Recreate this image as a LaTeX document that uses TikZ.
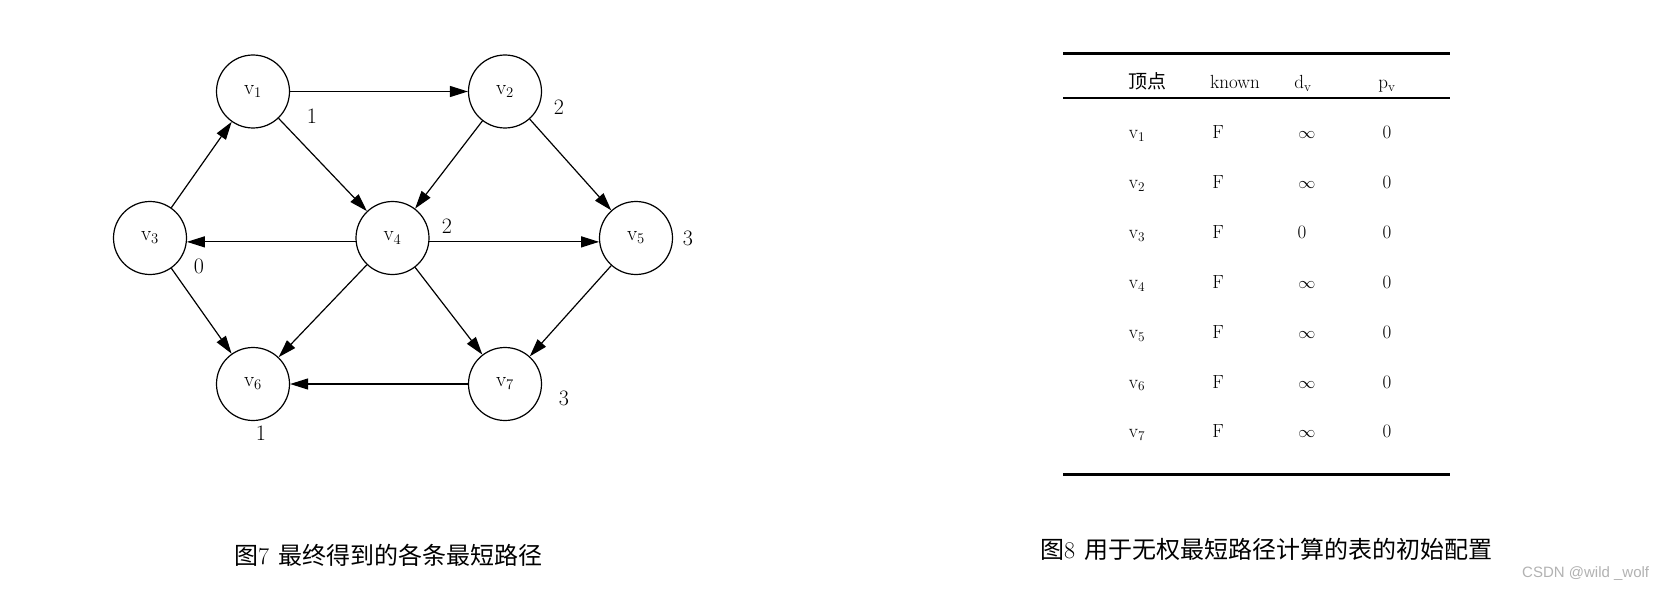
\documentclass[tikz,border=0pt]{standalone}
\usepackage{fix-cm}
\usepackage{fontspec}
\newfontfamily\cjk{Noto Sans CJK SC}
\newfontfamily\wm{Liberation Sans}
\usetikzlibrary{arrows.meta}
\tikzset{
  vert/.style={circle,draw,line width=1.2pt,minimum size=73pt,inner sep=0pt,font=\fontsize{21}{24}\selectfont},
  arr/.style={line width=1.2pt,-{Triangle[length=18pt,width=11pt]}},
  num/.style={font=\fontsize{22}{26}\selectfont,inner sep=0pt},
  cell/.style={font=\fontsize{19}{22}\selectfont,anchor=base,inner sep=0pt},
  captext/.style={font=\cjk\fontsize{24}{28}\selectfont,anchor=west,inner sep=0pt},
  thickrule/.style={line width=3pt},
  thinrule/.style={line width=1.2pt}
}
\newcommand{\myinfty}{\scalebox{0.9}[0.85]{$\infty$}}
\begin{document}
\begin{tikzpicture}[x=1pt,y=-1pt]
\fill[white] (0,0) rectangle (1668,591);
\useasboundingbox (0,0) rectangle (1668,591);
% graph
\node[vert] (v1) at (253,91.5) {v\textsubscript{1}};
\node[vert] (v2) at (505,91.5) {v\textsubscript{2}};
\node[vert] (v3) at (150,238) {v\textsubscript{3}};
\node[vert] (v4) at (392.5,238) {v\textsubscript{4}};
\node[vert] (v5) at (636,238) {v\textsubscript{5}};
\node[vert] (v6) at (253,384) {v\textsubscript{6}};
\node[vert] (v7) at (505,384) {v\textsubscript{7}};
\draw[arr] (v1) -- (v2);
\draw[arr] (v1) -- (v4);
\draw[arr] (v2) -- (v4);
\draw[arr] (v2) -- (v5);
\draw[arr] (v3) -- (v1);
\draw[arr] (v4.186) -- (v3.-6);
\draw[arr] (v4.-6) -- (v5.186);
\draw[arr] (v3) -- (v6);
\draw[arr] (v4) -- (v6);
\draw[arr] (v4) -- (v7);
\draw[arr] (v5) -- (v7);
\draw[arr] (v7) -- (v6);
\node[num] (n1) at (312,116) {1};
\node[num] (n2) at (559,107) {2};
\node[num] (n4) at (447,226) {2};
\node[num] (n5) at (688,238) {3};
\node[num] (n3) at (199,266) {0};
\node[num] (n6) at (261,433) {1};
\node[num] (n7) at (564,398) {3};
% table
\draw[thickrule] (1063,54) -- (1450,54);
\draw[thinrule] (1063,98) -- (1450,98);
\draw[thickrule] (1063,474) -- (1450,474);
\node[cell,font=\cjk\fontsize{19}{22}\selectfont] (h1) at (1147,89) {顶点};
\node[cell] (h2) at (1235,89) {known};
\node[cell] (h3) at (1303,89) {d\textsubscript{v}};
\node[cell] (h4) at (1387,89) {p\textsubscript{v}};
\foreach \i/\d/\dx in {1/\myinfty/1307,2/\myinfty/1307,3/0/1302,4/\myinfty/1307,5/\myinfty/1307,6/\myinfty/1307,7/\myinfty/1307}{
  \pgfmathsetmacro\yy{139+49.8*(\i-1)}
  \node[cell] (r\i a) at (1137,\yy) {v\textsubscript{\i}};
  \node[cell] (r\i b) at (1218,\yy) {F};
  \node[cell] (r\i c) at (\dx,\yy) {\d};
  \node[cell] (r\i d) at (1387,\yy) {0};
}
% captions
\node[captext] (c1) at (234,555) {图{\rmfamily 7}\hspace{9pt}最终得到的各条最短路径};
\node[captext] (c2) at (1040,549) {图{\rmfamily 8}\hspace{9pt}用于无权最短路径计算的表的初始配置};
\node[anchor=west,inner sep=0pt,font=\wm\fontsize{15}{18}\selectfont,text=black!30] (wm) at (1522,574) {CSDN @wild \_wolf};
\end{tikzpicture}
\end{document}
